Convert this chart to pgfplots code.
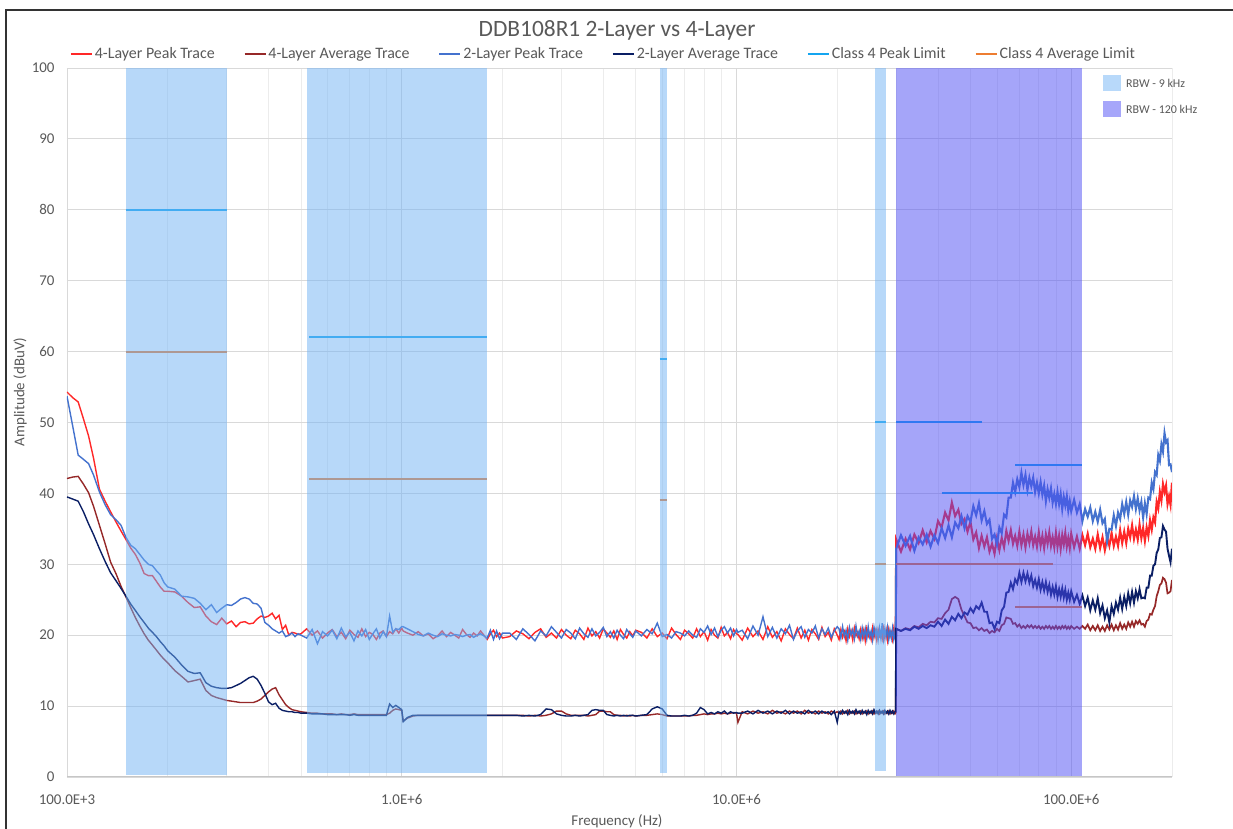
\documentclass[border=0pt]{standalone}
\usepackage{fontspec}
\setmainfont{Carlito}
\usepackage{pgfplots}
\pgfplotsset{compat=1.18}
\usepackage{pgfplotstable}

\definecolor{txt}{RGB}{89,89,89}
\definecolor{gridmaj}{RGB}{217,217,217}
\definecolor{gridmin}{RGB}{236,236,236}
\definecolor{c4peak}{RGB}{255,40,40}
\definecolor{c4avg}{RGB}{150,40,40}
\definecolor{c2peak}{RGB}{68,114,206}
\definecolor{c2avg}{RGB}{10,30,100}
\definecolor{climpeak}{RGB}{20,165,240}
\definecolor{climavg}{RGB}{237,125,49}
\definecolor{bandblue}{RGB}{113,179,245}
\definecolor{bandpurple}{RGB}{77,77,245}
\definecolor{patchblue}{RGB}{184,217,250}
\definecolor{patchpurple}{RGB}{166,166,250}

% f in MHz; p4 = 4-layer peak, a4 = 4-layer average, p2 = 2-layer peak, a2 = 2-layer average
% 100 kHz - 30 MHz
\pgfplotstableread{
f p4 a4 p2 a2
0.100 54.3 42.1 53.7 39.5
0.104 53.5 42.3 49.5 39.2
0.108 52.9 42.4 45.4 38.9
0.112 50.5 41.3 44.8 37.4
0.116 48.1 40.1 44.2 35.7
0.120 45.0 38.2 42.6 34.2
0.125 40.6 35.5 40.2 32.2
0.130 38.9 32.9 38.4 30.4
0.135 37.4 30.3 37.0 28.8
0.140 36.0 28.7 36.3 27.7
0.145 34.7 26.9 35.5 26.6
0.150 33.5 25.4 33.8 25.5
0.155 32.3 23.9 32.7 24.4
0.160 31.4 22.5 32.2 23.5
0.165 30.2 21.3 31.4 22.6
0.170 28.7 20.2 30.6 21.8
0.175 28.4 19.3 30.0 21.0
0.180 28.4 18.6 29.8 20.4
0.185 27.6 17.9 29.1 19.8
0.190 26.8 17.2 28.5 19.1
0.195 26.2 16.6 27.4 18.5
0.200 26.2 16.1 26.8 17.8
0.210 26.1 15.0 26.5 16.9
0.220 25.5 14.2 25.5 15.8
0.230 24.6 13.4 25.4 14.9
0.240 23.9 13.6 25.2 14.6
0.250 24.0 13.8 24.5 14.7
0.260 22.7 12.2 23.6 13.3
0.270 21.9 11.5 24.3 12.8
0.280 21.5 11.2 23.2 12.6
0.290 22.4 11.0 23.8 12.5
0.300 21.6 10.8 24.3 12.5
0.310 22.0 10.7 24.2 12.6
0.320 21.2 10.6 24.6 12.9
0.330 21.8 10.5 25.1 13.2
0.340 21.9 10.5 25.3 13.6
0.350 21.6 10.5 25.1 14.0
0.360 21.7 10.5 24.5 14.2
0.370 22.3 10.7 24.4 13.8
0.380 22.7 11.0 23.8 12.9
0.390 22.5 11.5 21.8 11.8
0.400 22.7 12.0 21.4 10.6
0.410 23.1 12.4 20.9 10.2
0.420 22.3 12.6 20.6 10.4
0.430 22.8 11.6 20.3 9.7
0.440 20.8 10.9 20.6 9.4
0.450 21.4 10.2 19.8 9.3
0.460 20.0 9.8 20.0 9.2
0.470 20.4 9.5 20.3 9.2
0.480 20.3 9.4 19.8 9.1
0.490 20.1 9.3 20.2 9.1
0.50 20.2 9.2 20.0 9.0
0.52 20.9 9.1 19.6 9.0
0.54 20.0 9.0 20.8 8.9
0.56 20.6 9.0 18.8 8.9
0.58 19.6 8.9 20.5 8.9
0.60 20.3 8.9 19.9 8.8
0.62 20.8 8.9 20.7 8.8
0.64 19.8 8.8 19.5 8.8
0.66 20.4 8.9 21.0 8.8
0.68 19.5 8.8 19.8 8.8
0.70 20.7 8.8 20.4 8.7
0.72 20.1 8.9 19.2 8.8
0.74 19.7 8.8 20.6 8.7
0.76 20.9 8.8 19.9 8.7
0.78 19.8 8.8 20.8 8.7
0.80 20.4 8.8 19.4 8.7
0.82 20.1 8.8 20.2 8.7
0.84 19.4 8.8 20.9 8.7
0.86 20.3 8.8 19.6 8.7
0.88 20.6 8.8 20.5 8.7
0.90 19.8 8.8 19.8 8.7
0.92 20.5 9.0 22.7 10.3
0.94 20.2 9.4 20.4 9.8
0.96 20.9 9.6 20.9 10.1
0.98 20.3 9.5 20.8 9.8
1.00 21.0 9.4 21.2 9.5
1.01 20.6 7.9 21.2 7.8
1.04 20.3 8.3 20.9 8.4
1.08 20.0 8.6 20.5 8.7
1.12 20.5 8.7 20.1 8.7
1.16 19.9 8.7 19.9 8.7
1.20 20.2 8.7 20.3 8.7
1.24 19.5 8.7 20.0 8.7
1.28 19.9 8.7 19.8 8.7
1.32 20.6 8.7 20.2 8.7
1.36 19.8 8.7 20.0 8.7
1.40 20.4 8.7 19.9 8.7
1.44 20.0 8.7 20.1 8.7
1.48 19.6 8.7 20.0 8.7
1.52 20.8 8.7 19.8 8.7
1.56 20.1 8.7 20.0 8.7
1.60 19.7 8.7 20.1 8.7
1.64 20.3 8.7 19.7 8.7
1.68 19.9 8.7 20.0 8.7
1.72 20.6 8.7 20.2 8.7
1.76 20.0 8.7 19.9 8.7
1.80 19.4 8.7 19.6 8.7
1.84 20.2 8.7 20.7 8.7
1.88 20.7 8.7 19.4 8.7
1.92 19.8 8.7 20.6 8.7
1.96 20.3 8.7 19.5 8.7
2.00 19.6 8.7 20.3 8.7
2.1 19.8 8.7 20.3 8.7
2.2 20.6 8.7 19.4 8.7
2.3 20.2 8.7 20.9 8.6
2.4 19.5 8.6 20.1 8.7
2.5 20.4 8.7 19.2 8.6
2.6 20.9 8.6 20.6 8.8
2.7 19.7 8.7 19.9 9.6
2.8 20.3 8.9 21.2 9.5
2.9 19.6 9.3 20.4 8.9
3.0 20.8 9.3 19.6 8.7
3.1 20.0 8.9 20.8 8.6
3.2 19.5 8.7 20.3 8.6
3.3 20.7 8.7 19.5 8.7
3.4 20.2 8.7 21.0 8.6
3.5 19.4 8.7 20.2 8.7
3.6 21.0 8.6 19.7 8.8
3.7 19.9 8.7 20.9 9.4
3.8 20.5 8.8 19.9 9.5
3.9 19.6 9.3 20.4 9.4
4.0 20.9 9.3 21.1 9.4
4.1 20.3 9.2 19.8 8.8
4.2 19.7 9.2 20.5 8.7
4.3 20.6 8.8 19.6 8.6
4.4 19.4 8.7 20.7 8.7
4.5 20.8 8.7 20.0 8.6
4.6 20.1 8.6 19.5 8.7
4.7 19.6 8.7 20.8 8.6
4.8 20.5 8.6 20.2 8.7
4.9 19.9 8.7 19.7 8.7
5.0 20.7 8.6 20.6 8.6
5.2 20.4 8.7 19.9 8.7
5.4 19.6 8.7 20.8 8.8
5.6 20.9 8.8 20.2 9.6
5.8 19.8 8.9 21.7 9.9
6.0 20.3 8.8 19.8 9.6
6.2 19.5 8.6 20.1 8.7
6.4 21.0 8.6 19.6 8.6
6.6 20.1 8.6 20.5 8.6
6.8 19.4 8.6 20.3 8.6
7.0 20.7 8.6 19.9 8.7
7.2 20.2 8.6 20.6 8.6
7.4 19.6 8.7 20.0 8.7
7.6 20.9 8.7 19.7 9.0
7.8 19.8 8.8 20.9 9.8
8.0 20.5 8.9 20.4 9.5
8.2 19.3 8.8 21.3 8.9
8.4 20.8 8.9 20.1 9.1
8.6 20.0 8.9 21.0 8.9
8.8 19.6 9.0 19.8 9.2
9.0 21.1 8.9 20.7 9.0
9.2 19.9 9.0 21.2 9.3
9.4 20.4 8.9 20.3 8.9
9.6 19.5 9.0 21.0 9.2
9.8 20.8 9.1 19.9 9.0
10.0 20.2 9.0 20.8 9.1
10.1 20.1 7.7 20.4 9.0
10.4 19.3 9.2 20.7 9.0
10.8 21.0 8.9 19.5 9.3
11.2 19.8 9.3 21.3 8.9
11.6 20.6 9.0 20.0 9.4
12.0 19.4 9.2 22.6 9.0
12.4 21.2 8.9 19.8 9.3
12.8 19.7 9.4 21.1 8.9
13.2 20.5 9.0 19.6 9.3
13.6 19.2 9.2 20.9 9.0
14.0 20.9 8.9 20.2 9.4
14.4 20.1 9.3 21.4 8.9
14.8 19.5 9.0 19.4 9.3
15.2 21.0 9.3 20.6 9.0
15.6 19.6 8.9 21.2 9.2
16.0 20.7 9.4 19.7 8.9
16.4 19.3 9.0 20.8 9.4
16.8 20.8 9.2 20.3 9.0
17.2 20.2 8.9 21.3 9.3
17.6 19.4 9.3 19.6 8.9
18.0 21.1 9.0 20.9 9.3
18.4 19.8 9.2 20.1 9.0
18.8 20.4 8.9 21.0 9.2
19.2 19.3 9.3 19.7 8.8
19.6 20.9 9.0 20.6 9.3
20.0 20.0 9.2 21.2 7.7
20.25 19.4 9.0 20.9 9.2
20.5 20.8 9.3 19.6 8.9
20.75 19.7 8.9 21.2 9.4
21 20.5 9.2 19.8 9.0
21.25 19.2 9.0 20.7 9.3
21.5 20.9 9.4 19.3 8.8
21.75 19.8 8.9 21.1 9.4
22 20.6 9.2 20.0 9.0
22.25 19.3 9.0 20.8 9.3
22.5 21.0 9.3 19.5 8.9
22.75 19.9 8.9 21.3 9.5
23 20.4 9.2 19.9 9.0
23.25 19.5 9.0 20.6 9.3
23.5 20.8 9.3 19.4 8.9
23.75 19.6 8.9 21.0 9.4
24 20.7 9.2 19.7 9.0
24.25 19.2 9.0 20.9 9.3
24.5 20.9 9.3 19.5 8.8
24.75 19.8 8.9 21.2 9.4
25 20.3 9.2 19.8 9.0
25.25 19.4 9.0 20.6 9.3
25.5 21.0 9.3 19.3 8.9
25.75 19.7 8.9 21.1 9.5
26 20.6 9.2 19.9 9.0
26.25 19.3 9.0 20.8 9.3
26.5 20.8 9.3 19.4 8.9
26.75 19.9 8.9 21.0 9.4
27 20.5 9.2 19.6 9.0
27.25 19.5 9.0 21.7 9.3
27.5 20.9 9.3 19.5 8.9
27.75 19.6 8.9 20.9 9.4
28 20.7 9.2 19.8 9.0
28.25 19.3 9.0 21.1 9.3
28.5 20.8 9.3 19.4 8.9
28.75 19.8 8.9 20.7 9.4
29 20.4 9.2 19.6 9.0
29.25 19.4 9.0 21.0 9.3
29.5 20.9 9.3 19.5 8.9
29.75 19.7 8.9 20.8 9.2
29.9 20.0 9.0 19.4 9.1
}\lowdata

% 30 MHz - 200 MHz
\pgfplotstableread{
f p4 a4 p2 a2
29.9 20.0 9.0 19.4 9.1
30 33.5 20.9 32.2 20.9
31 31.8 20.6 34.1 20.6
32 33.6 21.0 32.6 20.9
33 32.1 20.8 34.0 20.7
34 34.2 21.3 31.9 21.2
35 33.0 21.1 33.8 20.9
36 34.8 21.6 32.8 21.3
37 33.1 21.4 34.2 21.0
38 34.7 21.9 32.5 21.4
39 33.6 21.8 34.1 21.2
40 36.1 22.4 33.0 21.9
41 35.2 22.3 35.1 21.3
42 37.3 23.1 33.7 22.2
43 36.2 23.6 35.5 21.6
44 38.7 25.1 33.8 22.6
45 36.8 25.4 35.9 22.1
46 37.7 25.1 35.1 23.0
47 35.7 23.6 36.8 22.4
48 36.4 22.7 35.1 23.2
49 34.6 21.8 36.8 22.9
50 36.0 21.7 36.0 23.8
51 33.5 21.0 38.2 23.2
52 34.5 21.1 36.9 24.1
53 32.3 20.7 38.6 23.7
54 34.0 21.0 36.2 24.6
55 32.5 20.6 37.5 23.3
56 33.8 20.8 35.7 23.3
57 31.8 20.3 36.3 21.7
58 32.9 20.6 33.6 21.8
59 31.5 20.4 34.2 20.9
60 33.7 20.9 32.8 21.9
61 32.0 20.6 35.2 21.7
62 33.7 21.4 34.4 23.5
63 32.4 21.6 37.0 24.0
64 34.7 22.5 36.6 26.0
65 33.3 22.4 39.4 26.1
66 34.8 22.3 39.4 27.4
67 32.9 21.6 41.5 26.5
68 34.0 21.7 40.2 27.9
69 32.6 21.2 42.0 27.3
70 34.6 21.5 40.9 28.8
71 32.7 21.0 42.9 27.5
72 34.2 21.3 41.2 28.8
73 32.4 21.0 42.6 27.6
74 34.3 21.4 40.5 28.7
75 33.0 21.1 42.2 27.4
76 34.6 21.4 41.0 28.4
77 32.7 21.0 42.2 26.9
78 33.9 21.3 40.2 27.8
79 32.5 21.0 41.5 26.7
80 34.5 21.3 40.0 27.9
81 32.6 20.9 41.6 26.4
82 34.0 21.2 39.8 27.5
83 32.3 20.9 41.1 26.3
84 34.2 21.3 38.9 27.5
85 32.9 21.0 40.6 26.1
86 34.5 21.3 39.4 27.1
87 32.6 20.9 40.7 25.7
88 33.8 21.2 38.7 26.8
89 32.4 20.9 39.9 25.7
90 34.4 21.3 38.5 26.9
91 32.5 20.9 40.2 25.4
92 34.0 21.2 38.5 26.5
93 32.2 20.9 39.9 25.4
94 34.1 21.3 37.8 26.6
95 32.8 21.0 39.5 25.3
96 34.4 21.3 38.3 26.4
97 32.5 20.9 39.6 25.0
98 33.7 21.2 37.6 26.0
99 32.3 20.9 38.9 25.0
100 34.3 21.3 37.5 26.2
102 32.4 20.9 39.1 24.7
104 33.9 21.2 37.3 25.7
106 32.2 20.9 38.5 24.4
108 34.1 21.3 36.1 25.6
110 32.7 20.9 37.8 24.1
112 34.3 21.5 36.7 25.3
114 32.4 20.7 38.0 23.5
116 33.6 21.3 36.1 24.9
118 32.2 20.7 37.4 23.6
120 34.2 21.4 36.0 25.2
122 32.3 20.6 37.7 23.1
124 33.8 21.2 35.8 24.2
126 32.0 20.6 36.4 22.4
128 33.8 21.4 33.2 23.5
130 32.6 20.8 35.0 21.8
132 34.4 21.5 34.9 24.1
134 32.6 20.7 36.9 23.0
136 33.9 21.4 35.4 24.6
138 32.6 20.8 37.3 23.6
140 34.8 21.7 36.4 25.3
142 33.0 20.9 38.5 23.7
144 34.6 21.5 37.1 25.4
146 33.0 20.9 38.8 24.1
148 35.0 21.8 37.0 25.9
150 33.8 21.2 39.0 24.5
152 35.5 21.9 38.1 26.1
154 33.6 21.2 39.6 24.6
156 34.9 22.0 37.8 26.2
158 33.5 21.6 39.3 25.2
160 35.6 22.1 37.6 26.5
162 33.7 21.5 38.8 25.2
164 35.1 21.6 36.6 25.3
166 33.3 21.2 38.6 25.2
168 35.2 22.0 37.1 26.7
170 34.0 22.2 39.4 26.7
172 36.2 23.0 39.2 28.4
174 34.9 22.9 41.5 28.4
176 36.6 23.6 40.6 29.8
178 35.9 24.1 43.0 30.0
180 38.8 25.5 42.6 31.6
182 37.9 26.2 45.4 32.1
184 40.2 27.1 44.6 33.7
186 39.0 27.3 46.9 33.8
188 41.3 28.1 45.9 35.4
190 40.2 27.9 48.5 34.9
192 41.1 27.4 47.2 34.6
194 38.5 25.9 47.5 32.2
196 39.6 26.0 44.0 31.2
198 38.4 26.2 44.1 30.3
200 41.5 27.8 43.0 32.2
}\highdata

\begin{document}
\begin{tikzpicture}[x=1bp,y=1bp]
\useasboundingbox (0,0) rectangle (1233,829);
\fill[white] (0,0) rectangle (1233,829);
\draw[line width=1.3bp, black!80] (6,-10) -- (6,819) -- (1245,819);
\node[font=\fontsize{23.5}{27}\selectfont, text=txt] at (617,799) {DDB108R1 2-Layer vs 4-Layer};
\node[font=\fontsize{15}{18}\selectfont, text=txt] at (617,8) {Frequency (Hz)};
\node[font=\fontsize{15}{18}\selectfont, text=txt, rotate=90] at (20,437) {Amplitude (dBuV)};

\begin{axis}[
  at={(67bp,52bp)}, anchor=south west,
  width=1105bp, height=709bp, scale only axis,
  xmode=log, xmin=0.1, xmax=200, ymin=0, ymax=100,
  xtick={0.1,1,10,100},
  xticklabels={100.0E+3,1.0E+6,10.0E+6,100.0E+6},
  minor xtick={0.2,0.3,0.4,0.5,0.6,0.7,0.8,0.9,2,3,4,5,6,7,8,9,20,30,40,50,60,70,80,90,200},
  ytick={0,10,20,30,40,50,60,70,80,90,100},
  yticklabels={0,10,20,30,40,50,60,70,80,90,100},
  xmajorgrids, xminorgrids, ymajorgrids,
  major grid style={draw=gridmaj, line width=0.8bp},
  minor grid style={draw=gridmin, line width=0.8bp},
  major tick length=0pt, minor tick length=0pt,
  axis line style={draw=none},
  tick label style={font=\fontsize{15}{18}\selectfont, text=txt},
  xticklabel style={anchor=center, yshift=-23bp},
  yticklabel style={anchor=east, xshift=-9bp},
  no markers,
  legend columns=6,
  legend style={at={(0.4855,1.0197)}, anchor=center, draw=none, fill=none,
    font=\fontsize{16}{19}\selectfont, text=txt, inner sep=0pt,
    /tikz/every even column/.append style={column sep=27bp}},
  legend image code/.code={\draw[#1, line width=1.8bp] (0bp,0bp) -- (21bp,0bp);},
]
\addplot[c4peak, line width=1.4bp] table[x=f, y=p4] {\lowdata};
\addlegendentry{4-Layer Peak Trace}
\addplot[c4avg, line width=1.4bp] table[x=f, y=a4] {\lowdata};
\addlegendentry{4-Layer Average Trace}
\addplot[c2peak, line width=1.4bp] table[x=f, y=p2] {\lowdata};
\addlegendentry{2-Layer Peak Trace}
\addplot[c2avg, line width=1.4bp] table[x=f, y=a2] {\lowdata};
\addlegendentry{2-Layer Average Trace}
\addplot[forget plot, c4peak, line width=2.1bp] table[x=f, y=p4] {\highdata};
\addplot[forget plot, c4avg, line width=1.7bp] table[x=f, y=a4] {\highdata};
\addplot[forget plot, c2peak, line width=2.1bp] table[x=f, y=p2] {\highdata};
\addplot[forget plot, c2avg, line width=1.9bp] table[x=f, y=a2] {\highdata};
\addplot[climpeak, line width=2bp, unbounded coords=jump] coordinates {
 (0.15,80) (0.3,80) (0.3,nan) (0.53,62) (1.8,62) (1.8,nan) (5.9,59) (6.2,59) (6.2,nan)
 (26,50) (28,50) (28,nan) (30,50) (54,50) (54,nan) (41,40) (77,40) (77,nan) (68,44) (108,44)};
\addlegendentry{Class 4 Peak Limit}
\addplot[climavg, line width=2bp, unbounded coords=jump] coordinates {
 (0.15,60) (0.3,60) (0.3,nan) (0.53,42) (1.8,42) (1.8,nan) (5.9,39) (6.2,39) (6.2,nan)
 (26,30) (28,30) (28,nan) (30,30) (88,30) (88,nan) (68,24) (108,24)};
\addlegendentry{Class 4 Average Limit}
% RBW bands
\addplot[forget plot, draw=none, fill=bandblue, fill opacity=0.5] coordinates {(0.15,0.3) (0.15,100) (0.3,100) (0.3,0.3)} -- cycle;
\addplot[forget plot, draw=none, fill=bandblue, fill opacity=0.5] coordinates {(0.52,0.6) (0.52,100) (1.8,100) (1.8,0.6)} -- cycle;
\addplot[forget plot, draw=none, fill=bandblue, fill opacity=0.5] coordinates {(5.9,0.6) (5.9,100) (6.2,100) (6.2,0.6)} -- cycle;
\addplot[forget plot, draw=none, fill=bandblue, fill opacity=0.5] coordinates {(26,0.9) (26,100) (28,100) (28,0.9)} -- cycle;
\addplot[forget plot, draw=none, fill=bandpurple, fill opacity=0.5] coordinates {(30,0) (30,100) (108,100) (108,0)} -- cycle;
\draw[gray!45, line width=1bp] (rel axis cs:0,0) -- (rel axis cs:1,0);
\end{axis}

% RBW legend
\fill[patchblue] (1103,738) rectangle (1121,754);
\fill[patchpurple] (1103,712) rectangle (1121,728);
\node[anchor=west, font=\fontsize{12}{14}\selectfont, text=txt, inner sep=0pt] at (1126,746) {RBW - 9 kHz};
\node[anchor=west, font=\fontsize{12}{14}\selectfont, text=txt, inner sep=0pt] at (1126,720) {RBW - 120 kHz};
\end{tikzpicture}
\end{document}
